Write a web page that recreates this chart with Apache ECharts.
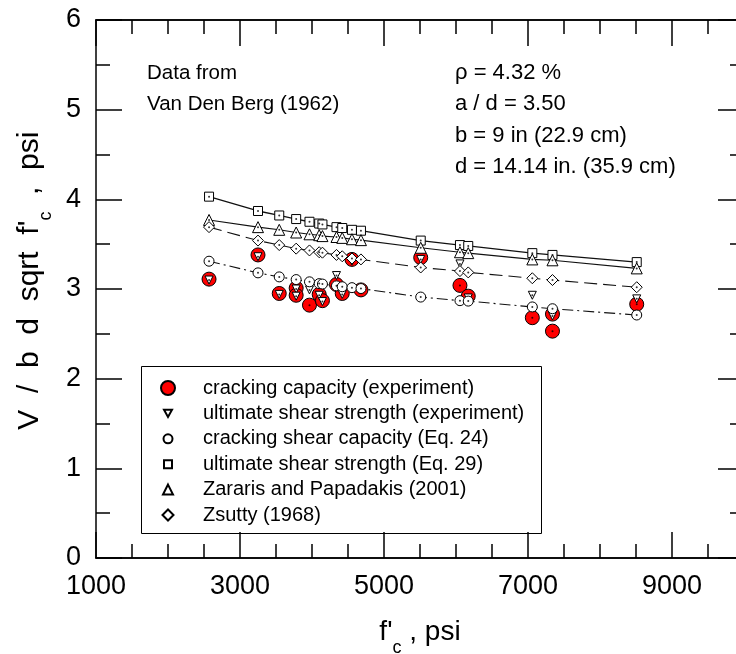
<!DOCTYPE html>
<html>
<head>
<meta charset="utf-8">
<script src="https://cdn.jsdelivr.net/npm/echarts@6/dist/echarts.min.js"></script>
<style>html,body{margin:0;padding:0;background:#fff}#c{width:736px;height:654px}</style>
</head>
<body>
<div id="c"></div>
<script>
// ---- data ----
const xModel = [2570, 3250, 3545, 3780, 3965, 4100, 4145, 4340, 4420, 4555, 4680, 5510, 6055, 6170, 7060, 7340, 8510];
const eq29    = [4.03, 3.87, 3.82, 3.78, 3.75, 3.73, 3.72, 3.69, 3.68, 3.66, 3.65, 3.54, 3.49, 3.48, 3.40, 3.38, 3.30];
const zararis = [3.77, 3.69, 3.66, 3.63, 3.61, 3.60, 3.59, 3.58, 3.57, 3.555, 3.545, 3.46, 3.41, 3.40, 3.33, 3.32, 3.23];
const zsutty  = [3.69, 3.54, 3.49, 3.45, 3.43, 3.41, 3.405, 3.38, 3.365, 3.34, 3.33, 3.24, 3.20, 3.185, 3.12, 3.10, 3.02];
const eq24    = [3.31, 3.18, 3.135, 3.105, 3.08, 3.06, 3.055, 3.035, 3.025, 3.015, 3.005, 2.91, 2.87, 2.865, 2.80, 2.78, 2.71];
const xCrack = [2570, 3250, 3545, 3780, 3780, 3965, 4100, 4145, 4340, 4420, 4555, 4680, 5510, 6055, 6170, 7060, 7340, 7340, 8510];
const crack  = [3.11, 3.38, 2.95, 3.01, 2.93, 2.82, 2.94, 2.87, 3.05, 2.95, 3.33, 2.99, 3.35, 3.04, 2.92, 2.68, 2.72, 2.53, 2.83];
const xUlt = [2570, 3250, 3545, 3780, 3780, 3965, 4100, 4145, 4340, 4420, 4555, 4680, 5510, 6055, 6170, 7060, 7340, 8510];
const ult  = [3.10, 3.36, 2.94, 3.00, 2.92, 2.99, 2.93, 2.86, 3.15, 2.94, 3.31, 2.99, 3.33, 3.28, 2.90, 2.93, 2.70, 2.89];
const xTickLabels = ['1000', '3000', '5000', '7000', '9000'];
const names = ['cracking capacity (experiment)', 'ultimate shear strength (experiment)', 'cracking shear capacity (Eq. 24)', 'ultimate shear strength (Eq. 29)', 'Zararis and Papadakis (2001)', 'Zsutty (1968)'];
const notesLeft = ['Data from', 'Van Den Berg (1962)'];
const notesRight = ['\u03c1 = 4.32 %', 'a / d = 3.50', 'b = 9 in (22.9 cm)', 'd = 14.14 in. (35.9 cm)'];

// ---- build ----
const FONT = 'Liberation Sans, Arial, sans-serif';
const pair = (xs, ys) => xs.map((x, i) => [x, ys[i]]);
const chart = echarts.init(document.getElementById('c'), null, {renderer: 'canvas'});

const subRich = {s: {fontSize: 18, fontFamily: FONT, color: '#000', verticalAlign: 'bottom', lineHeight: 50}};

function xAx(pos, interval, len, labels, extra) {
  return Object.assign({
    type: 'value', min: 1000, max: 10000, interval: interval, position: pos,
    axisLine: {show: true, onZero: false, lineStyle: {color: '#000', width: 1.5}},
    axisTick: {show: true, inside: true, length: len, lineStyle: {color: '#000', width: 1.5}},
    axisLabel: {show: labels, fontSize: 27, fontFamily: FONT, color: '#000', margin: 15, showMaxLabel: false,
      formatter: v => (xTickLabels.indexOf(String(v)) >= 0 ? String(v) : '')},
    splitLine: {show: false}
  }, extra || {});
}
function yAx(pos, labels, extra) {
  return Object.assign({
    type: 'value', min: 0, max: 6, interval: 1, position: pos,
    axisLine: {show: true, onZero: false, lineStyle: {color: '#000', width: 1.5}},
    axisTick: {show: true, inside: true, length: 26, lineStyle: {color: '#000', width: 1.5}},
    minorTick: {show: true, splitNumber: 2, length: 14, lineStyle: {color: '#000', width: 1.5}},
    axisLabel: {show: labels, fontSize: 27, fontFamily: FONT, color: '#000', margin: 15},
    splitLine: {show: false}
  }, extra || {});
}

const lineSeries = (ys, type, w) => ({
  type: 'line', data: pair(xModel, ys), showSymbol: false, silent: true, z: 1,
  lineStyle: {color: '#111', width: w, type: type}
});
const markSeries = (name, xs, ys, symbol, size, fill, rot, z) => ({
  name: name, type: 'scatter', data: pair(xs, ys), symbol: symbol, symbolSize: size, symbolRotate: rot || 0, z: z,
  itemStyle: {color: fill, borderColor: '#000', borderWidth: 1, opacity: 1}
});
const dotSeries = (xs, ys, z) => ({
  type: 'scatter', data: pair(xs, ys), symbol: 'circle', symbolSize: 2, silent: true, z: z,
  itemStyle: {color: '#000'}
});

const legIcon = [14, 8, 9, 8, 10, 11];
const legIconType = ['circle', 'path://M0,0L10,0L5,9Z', 'circle', 'rect', 'triangle', 'diamond'];
const legends = names.map((n, i) => {
  const s = legIcon[i];
  const cy = 388 + 25.4 * i;
  return {
    data: [{name: n, icon: legIconType[i]}], orient: 'vertical', left: 167 - s / 2, top: cy - 10, padding: 0, itemGap: 0,
    itemWidth: s, itemHeight: s, selectedMode: false,
    textStyle: {fontSize: 20, fontFamily: FONT, color: '#000', lineHeight: 20, padding: [0, 0, 0, 30 - s / 2]}
  };
});

const graphics = [
  {type: 'rect', left: 139, top: 364, z: 0, shape: {width: 400, height: 167}, style: {fill: 'none', stroke: '#000', lineWidth: 1}}
];
notesLeft.forEach((t, i) => graphics.push({type: 'text', left: 147, top: 74 + 31 * i - 11, style: {text: t, fontSize: 20.5, fontFamily: FONT, fill: '#000'}}));
notesRight.forEach((t, i) => graphics.push({type: 'text', left: 455, top: 74 + 31.3 * i - 12, style: {text: t, fontSize: 22, fontFamily: FONT, fill: '#000'}}));

chart.setOption({
  animation: false,
  backgroundColor: '#fff',
  grid: {left: 96, top: 20, right: -8, bottom: 96, containLabel: false, outerBoundsMode: 'none'},
  xAxis: [
    xAx('bottom', 2000, 26, true, {name: "f'{s|c} , psi", nameLocation: 'middle', nameGap: 49,
      nameTextStyle: {fontSize: 28, fontFamily: FONT, color: '#000', rich: subRich}}),
    xAx('bottom', 500, 14, false),
    xAx('top', 2000, 26, false),
    xAx('top', 500, 14, false)
  ],
  yAxis: [
    yAx('left', true, {name: "  V  /  b  d  sqrt  f'{s|c}  ,  psi", nameLocation: 'middle', nameGap: 38,
      nameTextStyle: {fontSize: 30, fontFamily: FONT, color: '#000', rich: subRich}}),
    yAx('right', false)
  ],
  legend: legends,
  graphic: graphics,
  series: [
    lineSeries(eq29, 'solid', 1.3),
    lineSeries(zararis, 'solid', 1.1),
    lineSeries(zsutty, [13, 6], 1.1),
    lineSeries(eq24, [11, 4, 2, 4], 1.1),
    markSeries(names[0], xCrack, crack, 'circle', 14, '#ff0000', 0, 2),
    dotSeries(xCrack, crack, 3),
    markSeries(names[1], xUlt, ult, 'triangle', 8, '#fff', 180, 4),
    dotSeries(xUlt, ult, 5),
    markSeries(names[2], xModel, eq24, 'circle', 10, '#fff', 0, 6),
    dotSeries(xModel, eq24, 7),
    markSeries(names[3], xModel, eq29, 'rect', 9, '#fff', 0, 8),
    dotSeries(xModel, eq29, 9),
    markSeries(names[4], xModel, zararis, 'triangle', 11, '#fff', 0, 10),
    dotSeries(xModel, zararis, 11),
    markSeries(names[5], xModel, zsutty, 'diamond', 11, '#fff', 0, 12),
    dotSeries(xModel, zsutty, 13)
  ]
});
</script>
</body>
</html>
